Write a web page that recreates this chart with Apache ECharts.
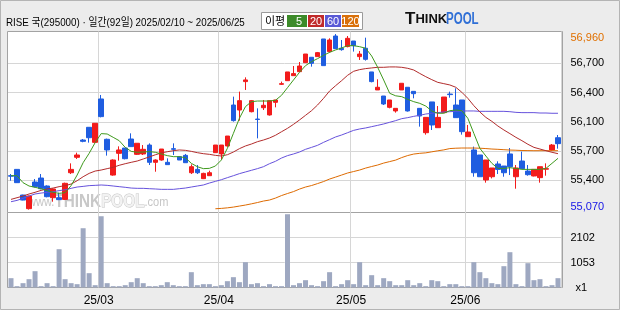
<!DOCTYPE html>
<html><head><meta charset="utf-8">
<script src="https://cdn.jsdelivr.net/npm/echarts@6/dist/echarts.min.js"></script>
<style>html,body{margin:0;padding:0;background:#ececec}#c{width:620px;height:310px}</style>
</head><body><div id="c"></div>
<script>
const dates = [
 '02/10','02/11','02/12','02/13','02/14','02/17','02/18','02/19','02/20','02/21','02/24','02/25','02/26','02/27','02/28',
 '03/04','03/05','03/06','03/07','03/10','03/11','03/12','03/13','03/14','03/17','03/18','03/19','03/20','03/21','03/24','03/25','03/26','03/27','03/28','03/31',
 '04/01','04/02','04/03','04/04','04/07','04/08','04/09','04/10','04/11','04/14','04/15','04/16','04/17','04/18','04/21','04/22','04/23','04/24','04/25','04/28','04/29','04/30',
 '05/02','05/07','05/08','05/09','05/12','05/13','05/14','05/15','05/16','05/19','05/20','05/21','05/22','05/23','05/26','05/27','05/28','05/29','05/30',
 '06/02','06/04','06/05','06/09','06/10','06/11','06/12','06/13','06/16','06/17','06/18','06/19','06/20','06/23','06/24','06/25'];
const opens = [55435,55503,55227,55080,55367,55410,55324,55198,55198,55180,
 55467,55633,55819,55956,55794,56261,55827,55442,55676,55733,
 55830,55665,55669,55765,55579,55604,55579,55726,55640,55654,
 55467,55503,55403,55435,55683,55669,55755,56196,56142,56448,
 56124,56045,56167,56089,56225,56419,56458,56512,56555,56652,
 56710,56717,56907,56771,56939,56807,56825,56885,56717,56807,
 56552,56358,56293,56171,56132,56358,56387,56343,56160,55898,
 56229,55952,56114,56314,56196,56250,55855,55712,55658,55389,
 55424,55561,55539,55669,55424,55593,55485,55432,55414,55505,
 55712,55844];
const closes = [55430,55360,55173,55216,55317,55295,55209,55292,55177,55353,
 55503,55658,55805,55844,55999,56071,55712,55604,55712,55618,
 55748,55784,55719,55579,55604,55722,55554,55719,55604,55575,
 55532,55467,55460,55467,55765,55765,55862,56028,56243,56466,
 56243,56040,56193,56243,56250,56426,56552,56534,56616,56745,
 56645,56760,56620,56896,56803,56792,56914,56835,56745,56688,
 56448,56387,56207,56250,56160,56430,56132,56318,56078,56063,
 55981,56063,56282,56308,56060,55909,55905,55467,55424,55604,
 55518,55503,55467,55532,55518,55511,55446,55503,55532,55511,
 55765,55780];
const lows = [55381,55358,55170,55070,55309,55288,55202,55155,55173,55173,
 55453,55615,55795,55791,55791,56063,55651,55435,55597,55611,
 55748,55658,55658,55550,55478,55597,55554,55658,55604,55575,
 55453,55453,55399,55435,55680,55611,55748,56017,56028,56358,
 56117,55837,56142,56082,56171,56412,56455,56512,56552,56648,
 56609,56717,56620,56760,56803,56781,56817,56771,56681,56674,
 56440,56358,56196,56160,56114,56358,56125,56268,55963,55877,
 55927,55952,56114,56275,56060,55877,55855,55424,55424,55360,
 55406,55453,55424,55442,55295,55511,55435,55428,55360,55435,
 55705,55726];
const highs = [55453,55505,55230,55220,55399,55453,55331,55299,55252,55360,
 55568,55683,55830,55956,56002,56304,55834,55611,55751,55733,
 55891,55784,55765,55783,55611,55722,55622,55783,55647,55669,
 55557,55550,55467,55489,55765,55765,55862,56286,56340,56494,
 56250,56160,56250,56243,56250,56448,56552,56616,56659,56745,
 56710,56767,56907,56914,56960,56896,56939,56885,56778,56921,
 56552,56473,56293,56250,56160,56430,56387,56343,56160,56063,
 56229,56185,56282,56340,56376,56250,55981,55748,55658,55604,
 55518,55590,55539,55733,55550,55694,55550,55503,55532,55568,
 55776,55873];
const volumes = [392,56,182,350,686,56,182,56,1610,350,
 182,140,2492,602,98,2996,182,56,56,98,
 224,392,182,56,56,98,224,98,56,56,
 644,98,140,140,56,98,266,434,224,1064,
 140,182,56,140,56,56,3080,98,182,308,
 98,56,266,644,56,140,308,140,1064,98,
 518,98,392,266,98,98,308,98,182,56,
 308,266,56,140,140,56,56,1064,644,392,
 182,140,896,1484,140,56,1022,308,350,56,
 98,392];
const ma5 = [55435,55435,55360,55324,55310,55295,55274,55256,55245,55252,
 55328,55442,55575,55676,55791,55888,55884,55848,55812,55740,
 55697,55687,55690,55694,55687,55669,55651,55640,55640,55629,
 55568,55532,55511,55514,55539,55604,55730,55891,56053,56178,
 56232,56239,56239,56239,56247,56300,56383,56466,56548,56620,
 56663,56695,56731,56763,56789,56810,56835,56835,56824,56807,
 56724,56602,56465,56322,56295,56286,56257,56232,56214,56185,
 56132,56107,56107,56135,56142,56135,56053,55891,55730,55647,
 55568,55514,55514,55521,55514,55503,55503,55503,55503,55514,
 55568,55622];
const ma20 = [55180,55198,55216,55238,55256,55277,55292,55302,55317,55328,
 55345,55381,55424,55460,55485,55496,55511,55525,55547,55564,
 55579,55593,55615,55637,55660,55680,55693,55704,55712,55708,
 55697,55683,55672,55665,55654,55647,55661,55690,55726,55755,
 55776,55801,55819,55841,55870,55908,55945,55988,56035,56085,
 56135,56196,56268,56347,56404,56458,56516,56559,56577,56588,
 56595,56602,56602,56606,56606,56602,56591,56573,56536,56501,
 56469,56440,56426,56412,56387,56333,56268,56189,56121,56063,
 56020,55970,55927,55888,55848,55812,55773,55740,55722,55704,
 55687,55672];
const ma60 = [55155,55169,55191,55216,55238,55248,55256,55263,55274,55284,
 55299,55313,55320,55328,55331,55335,55331,55324,55317,55310,
 55302,55299,55299,55295,55292,55288,55288,55288,55295,55302,
 55313,55324,55335,55356,55374,55392,55414,55435,55457,55475,
 55493,55511,55532,55564,55590,55625,55651,55669,55690,55719,
 55740,55762,55794,55823,55852,55873,55898,55923,55938,55949,
 55963,55977,55992,56010,56028,56049,56060,56074,56085,56099,
 56107,56114,56121,56124,56128,56132,56132,56132,56128,56128,
 56128,56128,56128,56124,56117,56114,56114,56114,56110,56110,
 56107,56107];
const ma120Start = 34;
const ma120Values = [55079,55083,55089,55097,55108,55119,55132,55146,55162,55173,
 55194,55221,55243,55264,55291,55313,55329,55350,55372,55399,
 55420,55442,55464,55480,55496,55517,55534,55550,55571,55587,
 55603,55630,55652,55668,55676,55681,55692,55703,55713,55727,
 55731,55733,55733,55733,55731,55727,55722,55719,55715,55711,
 55709,55706,55705,55704,55704,55704,55704,55704];
const ma120 = new Array(ma120Start).fill(null).concat(ma120Values);

const priceMin = 55070, priceMax = 56960;
const priceTickLabels = ['55,070','55,400','55,700','56,100','56,400','56,700','56,960'];
const volMax = 3153;
const volTickLabels = ['x1','1053','2102',''];
const monthTickLabels = ['25/03','25/04','25/05','25/06'];

const monthLabelAt = {};
let mi = 0;
for (let i = 1; i < dates.length; i++) {
  if (dates[i].slice(0,2) !== dates[i-1].slice(0,2)) { monthLabelAt[i] = monthTickLabels[mi++]; }
}
const isMonthStart = (i) => monthLabelAt[i] !== undefined;

const candleData = dates.map((d, i) => [opens[i], closes[i], lows[i], highs[i]]);

const FONT = '"Liberation Sans", Arial, "Noto Sans CJK KR", sans-serif';
const KFONT = '"Liberation Sans", "Noto Sans CJK KR", sans-serif';
const RED = '#f21b1b', BLUE = '#1f5de0';
const GRID_C = '#d6d6d6';
const PL = 8, PW = 553;

const chart = echarts.init(document.getElementById('c'), null, {renderer: 'canvas'});
const lastP = priceTickLabels.length - 1;
const option = {
  backgroundColor: '#ececec',
  animation: false,
  grid: [
    {left: 7.5, top: 31.5, width: 555, height: 181, show: true, backgroundColor: '#fff', borderColor: '#a3a3a3', borderWidth: 1, outerBoundsMode: 'none'},
    {left: 7.5, top: 212.5, width: 555, height: 75, show: true, backgroundColor: '#fff', borderColor: '#a3a3a3', borderWidth: 1, outerBoundsMode: 'none'},
    {left: PL, top: 31.5, width: PW, height: 256, outerBoundsMode: 'none'},
    {left: PL, top: 34.05, width: PW, height: 175.55, outerBoundsMode: 'none'},
    {left: PL, top: 212.5, width: PW, height: 75, outerBoundsMode: 'none'}
  ],
  xAxis: [
    {gridIndex: 0, type: 'value', show: false},
    {gridIndex: 1, type: 'value', show: false},
    {gridIndex: 2, type: 'category', data: dates, boundaryGap: true,
      axisLine: {show: false}, axisTick: {show: false},
      splitLine: {show: true, interval: (i) => isMonthStart(i), lineStyle: {color: GRID_C, width: 1}},
      axisLabel: {show: true, interval: (i) => isMonthStart(i), formatter: (v, i) => monthLabelAt[i] || '',
        color: '#000', fontSize: 12, fontFamily: FONT, margin: 7, padding: [0, 5, 0, 0]}},
    {gridIndex: 3, type: 'category', data: dates, boundaryGap: true, show: false},
    {gridIndex: 4, type: 'category', data: dates, boundaryGap: true, show: false}
  ],
  yAxis: [
    {gridIndex: 0, type: 'value', show: false},
    {gridIndex: 1, type: 'value', show: false},
    {gridIndex: 2, type: 'value', show: false},
    {gridIndex: 3, type: 'value', min: priceMin, max: priceMax, show: false},
    {gridIndex: 3, type: 'category', data: priceTickLabels, boundaryGap: false, position: 'right',
      axisLine: {show: false}, axisTick: {show: false},
      splitLine: {show: true, interval: (i) => i > 0 && i < lastP, lineStyle: {color: GRID_C, width: 1}},
      axisLabel: {interval: 0, margin: 9.5, color: '#000', fontSize: 11, fontFamily: FONT,
        formatter: (v, i) => i === lastP ? '{mx|' + v + '}' : (i === 0 ? '{mn|' + v + '}' : v),
        rich: {
          mx: {color: '#e07000', fontSize: 11, fontFamily: FONT, padding: [7, 0, 0, 0]},
          mn: {color: '#1414e6', fontSize: 11, fontFamily: FONT, padding: [0, 0, 5, 0]}
        }}},
    {gridIndex: 4, type: 'value', min: 0, max: volMax, show: false},
    {gridIndex: 4, type: 'category', data: volTickLabels, boundaryGap: false, position: 'right',
      axisLine: {show: false}, axisTick: {show: false},
      splitLine: {show: true, interval: (i) => i > 0 && i < volTickLabels.length - 1, lineStyle: {color: GRID_C, width: 1}},
      axisLabel: {interval: 0, margin: 9.5, color: '#000', fontSize: 11, fontFamily: FONT,
        formatter: (v, i) => i === 0 ? '{x|' + v + '}' : v,
        rich: {x: {fontSize: 11, fontFamily: FONT, color: '#000', padding: [0, 0, 0, 5]}}}}
  ],
  series: [
    {type: 'candlestick', xAxisIndex: 3, yAxisIndex: 3, data: candleData, barWidth: 5,
      itemStyle: {color: RED, color0: BLUE, borderColor: RED, borderColor0: BLUE, borderWidth: 1}},
    {type: 'line', xAxisIndex: 3, yAxisIndex: 3, data: ma120, showSymbol: false, symbol: 'none', lineStyle: {color: '#dd6a00', width: 1}},
    {type: 'line', xAxisIndex: 3, yAxisIndex: 3, data: ma60, showSymbol: false, symbol: 'none', lineStyle: {color: '#6652dc', width: 1}},
    {type: 'line', xAxisIndex: 3, yAxisIndex: 3, data: ma20, showSymbol: false, symbol: 'none', lineStyle: {color: '#b22c2c', width: 1}},
    {type: 'line', xAxisIndex: 3, yAxisIndex: 3, data: ma5, showSymbol: false, symbol: 'none', lineStyle: {color: '#3f9a1e', width: 1}},
    {type: 'bar', xAxisIndex: 4, yAxisIndex: 5, data: volumes, barWidth: 5, itemStyle: {color: '#9ea8c1'}}
  ],
  graphic: [
    {type: 'rect', silent: true, z: 100, shape: {x: 0.5, y: 0.5, width: 619, height: 309}, style: {fill: 'none', stroke: '#b4b4b4', lineWidth: 1}},
    {type: 'text', x: 6, y: 23, scaleX: 0.89, silent: true, style: {text: 'RISE 국(295000) · 일간(92일) 2025/02/10 ~ 2025/06/25', fontSize: 11, fontFamily: KFONT, fill: '#000', verticalAlign: 'middle'}},
    {type: 'rect', silent: true, shape: {x: 261.5, y: 12.5, width: 101, height: 17}, style: {fill: '#fff', stroke: '#9a9a9a', lineWidth: 1}},
    {type: 'text', x: 265, y: 21.5, silent: true, style: {text: '이평', fontSize: 11, fontFamily: KFONT, fill: '#000', verticalAlign: 'middle'}},
    {type: 'rect', silent: true, shape: {x: 287, y: 15, width: 20, height: 12}, style: {fill: '#3d8b2a'}},
    {type: 'rect', silent: true, shape: {x: 308, y: 15, width: 16, height: 12}, style: {fill: '#c02a2a'}},
    {type: 'rect', silent: true, shape: {x: 325, y: 15, width: 16, height: 12}, style: {fill: '#5a5ad6'}},
    {type: 'rect', silent: true, shape: {x: 342, y: 15, width: 17, height: 12}, style: {fill: '#d9700a'}},
    {type: 'text', x: 299, y: 21.5, silent: true, style: {text: '5', fontSize: 11, fontFamily: FONT, fill: '#fff', align: 'center', verticalAlign: 'middle'}},
    {type: 'text', x: 316, y: 21.5, silent: true, style: {text: '20', fontSize: 11, fontFamily: FONT, fill: '#fff', align: 'center', verticalAlign: 'middle'}},
    {type: 'text', x: 333, y: 21.5, silent: true, style: {text: '60', fontSize: 11, fontFamily: FONT, fill: '#fff', align: 'center', verticalAlign: 'middle'}},
    {type: 'text', x: 350.5, y: 21.5, silent: true, style: {text: '120', fontSize: 11, fontFamily: FONT, fill: '#fff', align: 'center', verticalAlign: 'middle'}},
    {type: 'text', x: 405, y: 28, silent: true, style: {text: '{t|T}{h|HINK}', verticalAlign: 'bottom',
      rich: {t: {fontSize: 17, fontWeight: 'bold', fontFamily: FONT, fill: '#111'}, h: {fontSize: 13, fontWeight: 'bold', fontFamily: FONT, fill: '#111'}}}},
    {type: 'text', x: 446, y: 28, scaleX: 0.72, silent: true, style: {text: 'POOL', verticalAlign: 'bottom', fontSize: 16, fontWeight: 'bold', fontFamily: FONT, fill: '#2f6fd6'}},
    {type: 'text', x: 28, y: 211, scaleX: 0.85, silent: true, z: 0, style: {text: '{w|www.}{b|THINK}{o|POOL}{w|.com}', verticalAlign: 'bottom',
      rich: {
        w: {fontSize: 13, fontFamily: FONT, fill: '#c6c6c6'},
        b: {fontSize: 18, fontWeight: 'bold', fontFamily: FONT, fill: '#c8c8c8'},
        o: {fontSize: 18, fontWeight: 'bold', fontFamily: FONT, fill: '#f2f2f2', stroke: '#c4c4c4', lineWidth: 1}
      }}}
  ]
};
chart.setOption(option);
</script></body></html>
